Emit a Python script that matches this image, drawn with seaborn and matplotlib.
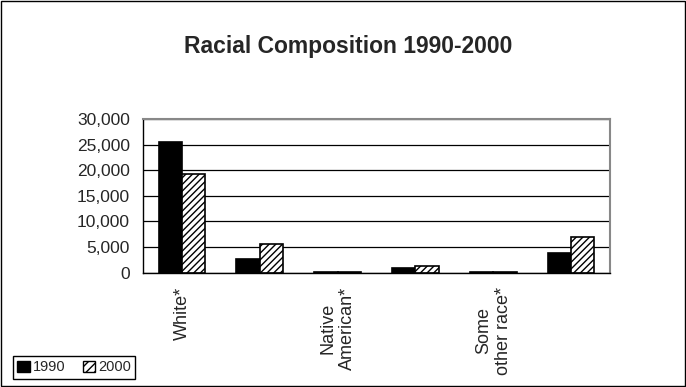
import numpy as np
import pandas as pd
import seaborn as sns
import matplotlib.pyplot as plt
from matplotlib.patches import Patch, Rectangle
from matplotlib.ticker import FuncFormatter, FixedLocator

# Racial composition counts
races = ["White*", "Black*", "Native American*", "Asian*", "Some other race*", "Two or more races*"]
tick_labels = ["White*", "", "Native\nAmerican*", "", "Some\nother race*", ""]
years = ["1990", "2000"]
pop_1990 = [25500, 2700, 60, 1000, 60, 3800]
pop_2000 = [19300, 5600, 200, 1300, 150, 6900]

sns.set_theme(style="white")
plt.rcParams['font.family'] = ['Liberation Sans', 'DejaVu Sans']
plt.rcParams['hatch.color'] = '#555555'
plt.rcParams['hatch.linewidth'] = 1.0

df = pd.DataFrame({
    'race': races * 2,
    'year': [years[0]] * len(races) + [years[1]] * len(races),
    'pop': pop_1990 + pop_2000,
})

fig = plt.figure(figsize=(6.86, 3.87), dpi=100)
ax = fig.add_axes([0.2085, 0.2953, 0.6807, 0.3972])

sns.barplot(
    data=df, x='race', y='pop', hue='year', ax=ax,
    palette=['black', 'white'], width=0.6, gap=0,
    edgecolor='black', linewidth=1.2, legend=False
)
for bar in ax.containers[1]:
    bar.set_hatch('/////')

ax.set_ylim(0, 30000)
ax.set_xlim(-0.5, len(races) - 0.5)
ax.yaxis.set_major_locator(FixedLocator(np.arange(0, 30001, 5000)))
ax.yaxis.set_major_formatter(FuncFormatter(lambda v, p: f"{int(v):,}"))
ax.grid(axis='y', color='black', linewidth=0.9)
ax.set_axisbelow(True)

ax.set_xticks(range(len(races)))
ax.set_xticklabels(tick_labels, rotation=90, va='top', ha='center',
                   multialignment='center', fontsize=13)
ax.set_xticks(np.arange(-0.5, len(races)), minor=True)
ax.tick_params(axis='x', which='major', length=0, pad=10)
ax.tick_params(axis='x', which='minor', length=5, width=0.8, color='black', direction='out')
ax.tick_params(axis='y', length=4.3, width=0.8, color='black', direction='out',
               labelsize=12.5, pad=5)
ax.set_xlabel('')
ax.set_ylabel('')

for side in ['left', 'bottom']:
    ax.spines[side].set_color('black')
    ax.spines[side].set_linewidth(1)
for side in ['top', 'right']:
    ax.spines[side].set_color('#888888')
    ax.spines[side].set_linewidth(1.5)

fig.text(0.508, 0.88, 'Racial Composition 1990-2000', ha='center', va='center',
         fontsize=16.5, fontweight='bold')

handles = [
    Patch(facecolor='black', edgecolor='black', label='1990'),
    Patch(facecolor='white', edgecolor='black', hatch='////', label='2000'),
]
fig.legend(handles=handles, loc='lower left', bbox_to_anchor=(0.019, 0.021),
           borderaxespad=0, ncol=2, frameon=True, fancybox=False, edgecolor='black',
           fontsize=10.5, handlelength=0.85, handleheight=0.85, handletextpad=0.2,
           columnspacing=1.2, borderpad=0.3, framealpha=1)

# border around the whole chart
fig.add_artist(Rectangle((0.002, 0.002), 0.996, 0.995, transform=fig.transFigure,
                         fill=False, edgecolor='black', linewidth=1))

fig.savefig('out.png', dpi=100)
